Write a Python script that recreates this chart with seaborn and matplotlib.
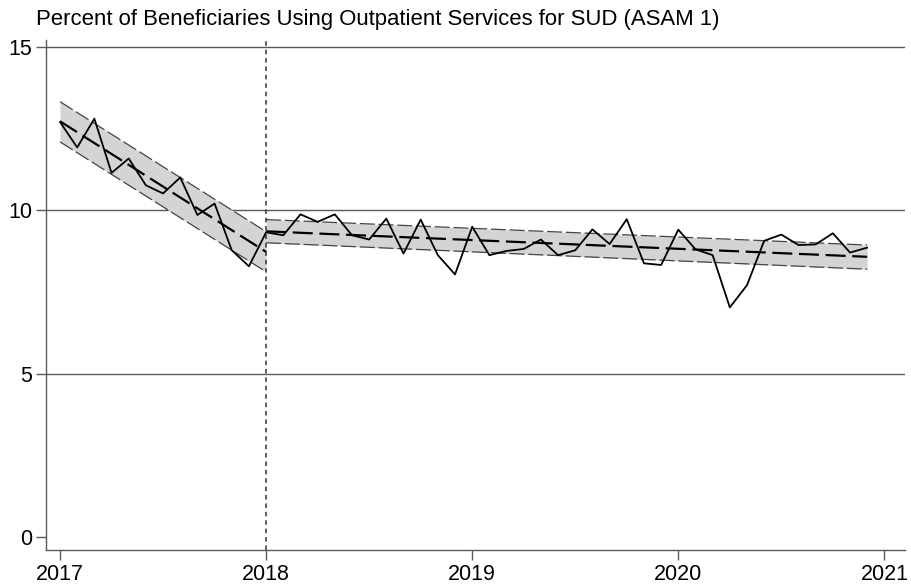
import matplotlib
matplotlib.use('Agg')
import matplotlib.pyplot as plt
import pandas as pd
import seaborn as sns

# monthly observed percent, Jan 2017 - Dec 2020
months = pd.date_range('2017-01-01', '2020-12-01', freq='MS')
pct = [12.71, 11.93, 12.81, 11.15, 11.59, 10.77, 10.52, 11.01, 9.86, 10.21, 8.78, 8.29,
       9.33, 9.24, 9.88, 9.65, 9.88, 9.24, 9.11, 9.75, 8.68, 9.72, 8.63, 8.04,
       9.50, 8.63, 8.76, 8.82, 9.11, 8.63, 8.78, 9.42, 8.97, 9.73, 8.38, 8.33,
       9.41, 8.81, 8.63, 7.03, 7.71, 9.07, 9.26, 8.94, 8.96, 9.30, 8.71, 8.86]

# fitted trend + confidence band, pre and post period (endpoints)
pre_dates = ['2017-01-01', '2018-01-01']
pre_fit = [12.73, 8.73]
pre_lo = [12.10, 8.12]
pre_hi = [13.33, 9.35]

post_dates = ['2018-01-01', '2020-12-01']
post_fit = [9.36, 8.58]
post_lo = [9.01, 8.20]
post_hi = [9.72, 8.94]

year_ticks = [2017, 2018, 2019, 2020, 2021]
y_ticks = [0, 5, 10, 15]
title = 'Percent of Beneficiaries Using Outpatient Services for SUD (ASAM 1)'


def dec_year(d):
    d = pd.to_datetime(pd.Series(d))
    return (d.dt.year + (d.dt.month - 1) / 12).to_numpy()


sns.set_theme(style='white')
plt.rcParams['font.family'] = ['Liberation Sans', 'DejaVu Sans']
plt.rcParams['text.color'] = 'black'
plt.rcParams['xtick.color'] = 'black'
plt.rcParams['ytick.color'] = 'black'

df = pd.DataFrame({'t': dec_year(months), 'pct': pct})

fig = plt.figure(figsize=(9.11, 5.87), dpi=100)
ax = fig.add_axes([46 / 911, 1 - 550 / 587, 859 / 911, 510 / 587])

grid_c = '#5a5a5a'
for v in y_ticks[1:]:
    ax.axhline(v, color=grid_c, lw=1.0, zorder=0)

# bands
for dts, fit, lo, hi in [(pre_dates, pre_fit, pre_lo, pre_hi),
                         (post_dates, post_fit, post_lo, post_hi)]:
    seg = pd.DataFrame({'t': dec_year(dts), 'fit': fit, 'lo': lo, 'hi': hi})
    ax.fill_between(seg['t'], seg['lo'], seg['hi'], color='#d4d4d4', lw=0, zorder=1)
    for col in ['lo', 'hi']:
        sns.lineplot(data=seg, x='t', y=col, ax=ax, color='#444444', lw=0.9,
                     zorder=2).lines[-1].set_dashes([12, 3])
    sns.lineplot(data=seg, x='t', y='fit', ax=ax, color='black', lw=1.6,
                 zorder=4).lines[-1].set_dashes([9, 3])

sns.lineplot(data=df, x='t', y='pct', ax=ax, color='black', lw=1.3, zorder=3)

ax.axvline(2018, color='#333333', lw=1.1, ls=(0, (3, 2.5)), zorder=2)

ax.set_xlim(2016.932, 2021.10)
ax.set_ylim(-0.4, 15.22)
ax.set_xticks(year_ticks)
ax.set_yticks(y_ticks)
ax.tick_params(axis='both', which='both', direction='out', length=7, width=1,
               color=grid_c, labelcolor='black', labelsize=15.5, pad=3,
               left=True, bottom=True)
ax.set_xlabel('')
ax.set_ylabel('')
for s in ['top', 'right']:
    ax.spines[s].set_visible(False)
for s in ['left', 'bottom']:
    ax.spines[s].set_color(grid_c)
    ax.spines[s].set_linewidth(1.0)

fig.text(36 / 911, 1 - 25 / 587, title, fontsize=15.9, color='black',
         ha='left', va='baseline')

fig.savefig('out.png', dpi=100)
